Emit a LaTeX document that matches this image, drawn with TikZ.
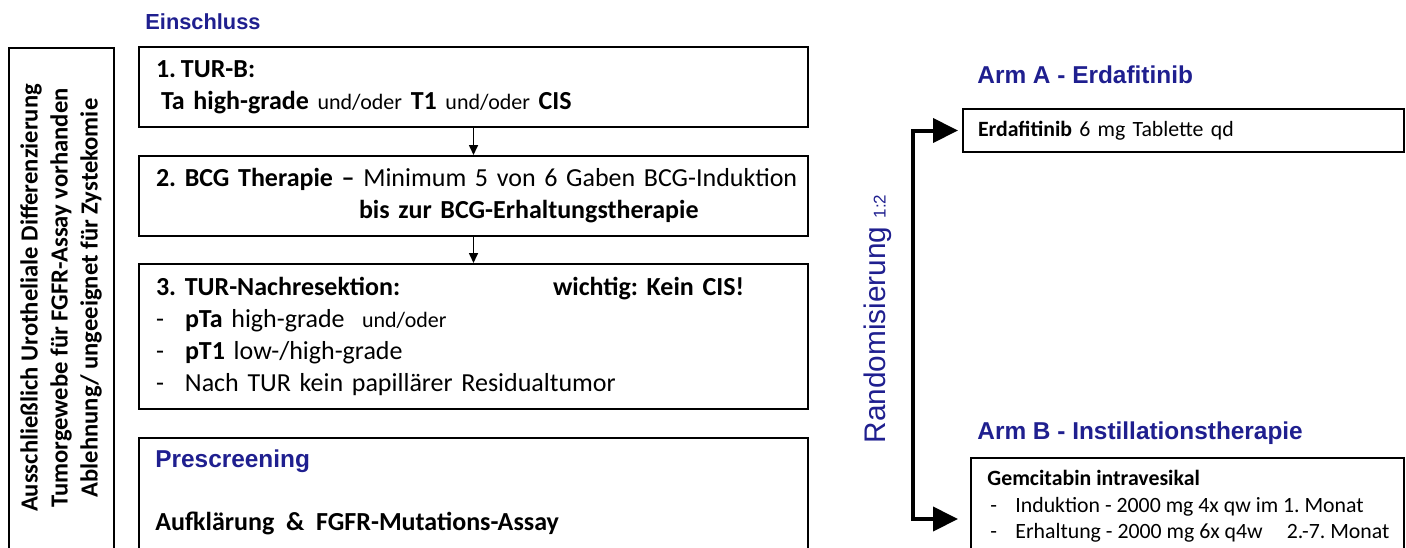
\documentclass[tikz,border=0pt]{standalone}
\usepackage{fontspec}
\setmainfont{Carlito}
\newfontfamily\arialfont{Liberation Sans}
\usepackage{tikz}
\usetikzlibrary{arrows.meta}
\definecolor{titleblue}{RGB}{31,31,143}
\tikzset{
  stepbox/.style={draw, line width=1pt, anchor=north west, inner ysep=0pt, align=left},
  boxfont/.style={font=\fontsize{13}{16}\selectfont},
  armfont/.style={font=\fontsize{10.9}{13.25}\selectfont},
  bluetitle/.style={anchor=west, inner sep=0pt, text=titleblue, font=\arialfont\bfseries\fontsize{12.2}{14}\selectfont},
  flow/.style={-{Triangle[length=5pt,width=4.5pt]}, line width=0.8pt},
  fork/.style={{Triangle[length=12.5pt,width=12pt]}-{Triangle[length=12.5pt,width=12pt]}, line width=2pt}
}
\newcommand{\klein}[1]{{\fontsize{11}{16}\selectfont #1}}

\begin{document}
\frenchspacing
\begin{tikzpicture}[x=0.5pt,y=-0.5pt]
            \useasboundingbox (0,0) rectangle (1406,547);
            \clip (0,0) rectangle (1406,547);

            % Left side: criteria column
            \node[stepbox, minimum width=52.5pt, minimum height=300pt] (crit) at (8,47) {};
            \node[rotate=90, align=center, font=\bfseries\fontsize{12.3}{15}\selectfont] (crittext) at (61,298)
                {Ausschließlich Urotheliale Differenzierung\\Tumorgewebe für FGFR-Assay vorhanden\\Ablehnung/ ungeeignet für Zystekomie};

            % Einschluss steps
            \node[bluetitle, font=\arialfont\bfseries\fontsize{10.9}{13}\selectfont] (einschluss) at (145,22) {Einschluss};
            \node[stepbox, boxfont, minimum height=40pt, text width=317.5pt, inner xsep=8.5pt] (turb) at (138,46)
                {\textbf{\makebox[12.5pt][l]{1.}TUR-B:}\\
                 \hspace*{2.5pt}\textbf{Ta high-grade} \klein{und/oder} \textbf{T1} \klein{und/oder} \textbf{CIS}};
            \node[stepbox, boxfont, minimum height=40pt, text width=317.5pt, inner xsep=8.5pt] (bcg) at (138,155)
                {\mbox{\textbf{2. BCG Therapie –} Minimum 5 von 6 Gaben BCG-Induktion}\\
                 \hspace*{101.5pt}\textbf{bis zur BCG-Erhaltungstherapie}};
            \node[stepbox, boxfont, minimum height=72.5pt, text width=317.5pt, inner xsep=8.5pt] (nachres) at (138,263)
                {\makebox[198.5pt][l]{\textbf{3. TUR-Nachresektion:}}\textbf{wichtig: Kein CIS!}\\
                 \makebox[14.5pt][l]{-}\textbf{pTa} high-grade \ \klein{und/oder}\\
                 \makebox[14.5pt][l]{-}\textbf{pT1} low-/high-grade\\
                 \makebox[14.5pt][l]{-}Nach TUR kein papillärer Residualtumor};
            \draw[flow] (turb) -- (bcg);
            \draw[flow] (bcg) -- (nachres);

            % Prescreening
            \node[stepbox, minimum width=334.5pt, minimum height=80pt] (prescr) at (138,437) {};
            \node[bluetitle] (prescrtitle) at (155,461) {Prescreening};
            \node[anchor=west, inner sep=0pt, boxfont] (assay) at (155,523) {\textbf{Aufklärung \ \& \ FGFR-Mutations-Assay}};

            % Randomisierung
            \node[rotate=90, inner sep=0pt, text=titleblue, font=\arialfont\fontsize{14.9}{16}\selectfont] (rand) at (878,319)
                {Randomisierung {\fontsize{8.5}{10}\selectfont 1:2}};

            % Right side: arms
            \node[bluetitle] (armAtitle) at (977,75) {Arm A - Erdafitinib};
            \node[stepbox, armfont, minimum height=21.5pt, text width=205.5pt, inner xsep=7.5pt] (armA) at (962,108)
                {\textbf{Erdafitinib} 6 mg Tablette qd};
            \node[bluetitle] (armBtitle) at (977,433) {Arm B - Instillationstherapie};
            \node[stepbox, minimum width=216.5pt, minimum height=80pt] (armB) at (970,457) {};
            \node[anchor=north west, inner sep=0pt, align=left, armfont] (armBtext) at (987,470)
                {\textbf{Gemcitabin intravesikal}\\
                 \hspace*{1.5pt}\makebox[12.5pt][l]{-}Induktion - 2000 mg 4x qw im 1. Monat\\
                 \hspace*{1.5pt}\makebox[12.5pt][l]{-}Erhaltung - 2000 mg 6x q4w\hspace{12pt}2.-7. Monat};

            % Randomisation fork
            \coordinate (armBin) at (958,519);
            \draw[fork, shorten <=2pt] (armA.west) -- ++(-49,0) |- (armBin);
\end{tikzpicture}
\end{document}
